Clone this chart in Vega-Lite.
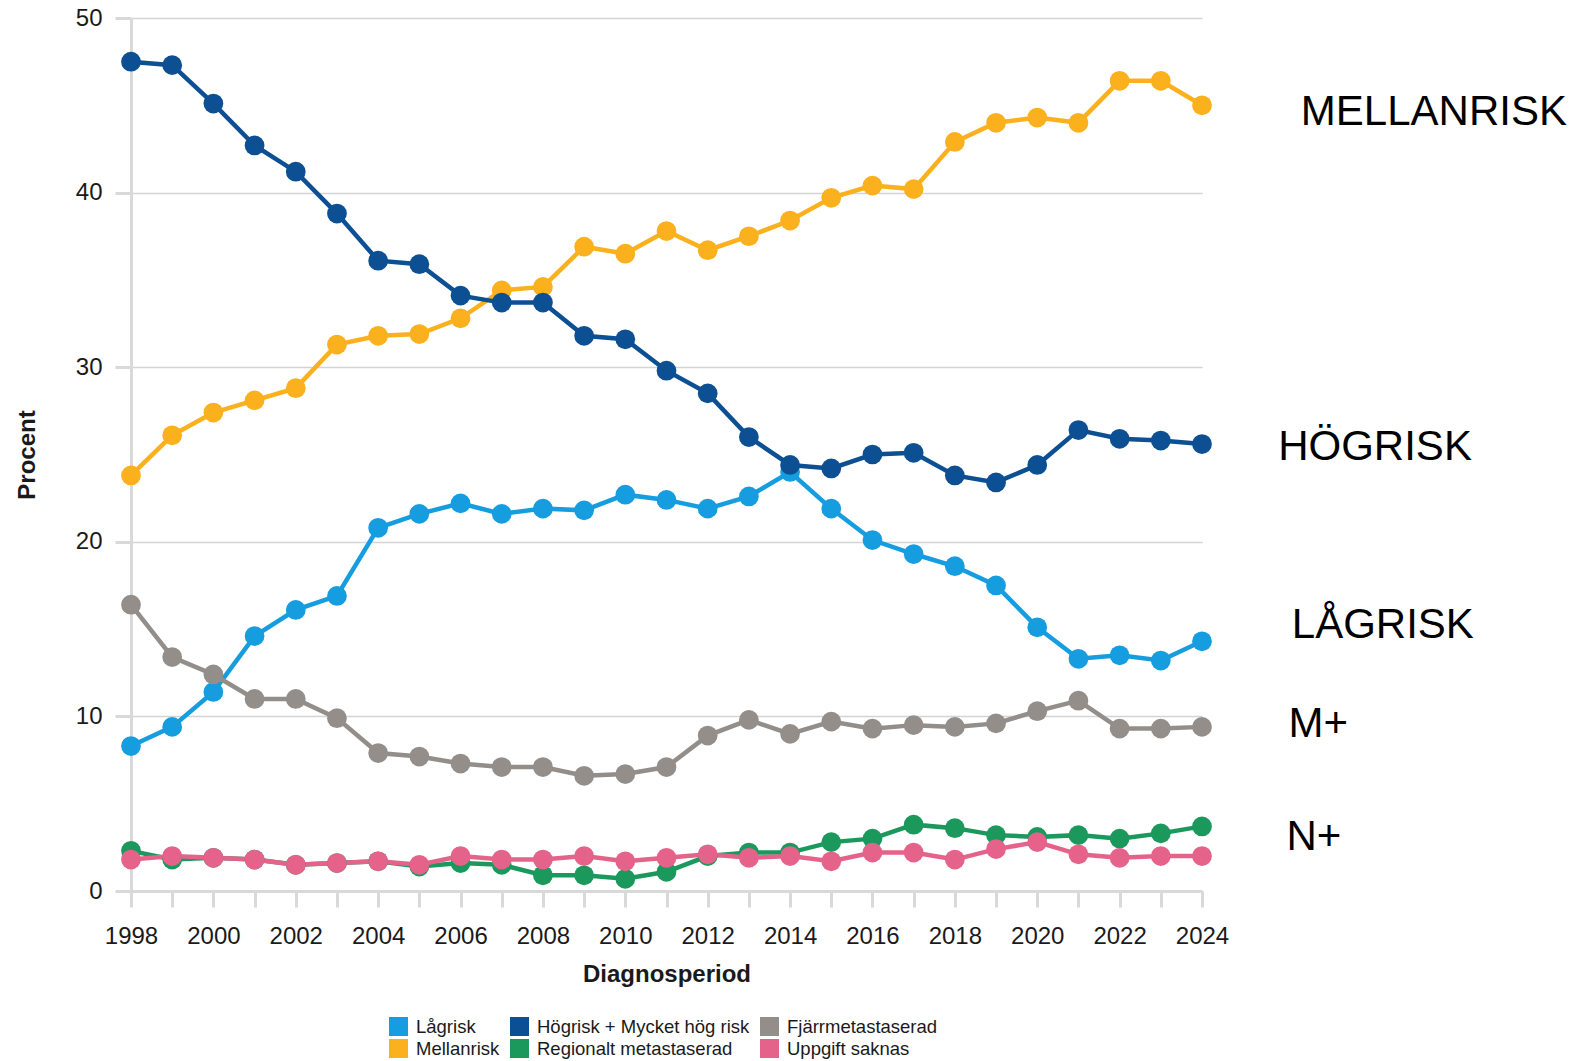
{
  "$schema": "https://vega.github.io/schema/vega-lite/v6.json",
  "width": 1071,
  "height": 873,
  "autosize": {"type": "none"},
  "padding": {"left": 131, "top": 18, "right": 373, "bottom": 170},
  "background": "white",
  "config": {
    "view": {"stroke": null},
    "font": "Liberation Sans",
    "axis": {
      "domainColor": "#d9d9d9",
      "domainWidth": 3,
      "tickColor": "#d9d9d9",
      "tickWidth": 3,
      "tickSize": 16,
      "gridColor": "#d4d4d4",
      "gridWidth": 1.5,
      "labelFont": "Liberation Sans",
      "labelFontSize": 24,
      "labelColor": "#1a1a1a",
      "titleFont": "Liberation Sans",
      "titleFontSize": 24,
      "titleFontWeight": "bold",
      "titleColor": "#1a1a1a"
    },
    "legend": {
      "title": null,
      "orient": "none",
      "legendX": 258,
      "legendY": 999,
      "columns": 3,
      "symbolType": "square",
      "symbolSize": 361,
      "symbolStrokeWidth": 0,
      "symbolOpacity": 1,
      "labelFont": "Liberation Sans",
      "labelFontSize": 18.5,
      "labelColor": "#1a1a1a",
      "labelOffset": 8,
      "columnPadding": 10,
      "rowPadding": 3,
      "labelLimit": 400
    }
  },
  "datasets": {
    "series": [
      {"year":1998,"series":"Lågrisk","value":8.3},
      {"year":1999,"series":"Lågrisk","value":9.4},
      {"year":2000,"series":"Lågrisk","value":11.4},
      {"year":2001,"series":"Lågrisk","value":14.6},
      {"year":2002,"series":"Lågrisk","value":16.1},
      {"year":2003,"series":"Lågrisk","value":16.9},
      {"year":2004,"series":"Lågrisk","value":20.8},
      {"year":2005,"series":"Lågrisk","value":21.6},
      {"year":2006,"series":"Lågrisk","value":22.2},
      {"year":2007,"series":"Lågrisk","value":21.6},
      {"year":2008,"series":"Lågrisk","value":21.9},
      {"year":2009,"series":"Lågrisk","value":21.8},
      {"year":2010,"series":"Lågrisk","value":22.7},
      {"year":2011,"series":"Lågrisk","value":22.4},
      {"year":2012,"series":"Lågrisk","value":21.9},
      {"year":2013,"series":"Lågrisk","value":22.6},
      {"year":2014,"series":"Lågrisk","value":24.0},
      {"year":2015,"series":"Lågrisk","value":21.9},
      {"year":2016,"series":"Lågrisk","value":20.1},
      {"year":2017,"series":"Lågrisk","value":19.3},
      {"year":2018,"series":"Lågrisk","value":18.6},
      {"year":2019,"series":"Lågrisk","value":17.5},
      {"year":2020,"series":"Lågrisk","value":15.1},
      {"year":2021,"series":"Lågrisk","value":13.3},
      {"year":2022,"series":"Lågrisk","value":13.5},
      {"year":2023,"series":"Lågrisk","value":13.2},
      {"year":2024,"series":"Lågrisk","value":14.3},
      {"year":1998,"series":"Mellanrisk","value":23.8},
      {"year":1999,"series":"Mellanrisk","value":26.1},
      {"year":2000,"series":"Mellanrisk","value":27.4},
      {"year":2001,"series":"Mellanrisk","value":28.1},
      {"year":2002,"series":"Mellanrisk","value":28.8},
      {"year":2003,"series":"Mellanrisk","value":31.3},
      {"year":2004,"series":"Mellanrisk","value":31.8},
      {"year":2005,"series":"Mellanrisk","value":31.9},
      {"year":2006,"series":"Mellanrisk","value":32.8},
      {"year":2007,"series":"Mellanrisk","value":34.4},
      {"year":2008,"series":"Mellanrisk","value":34.6},
      {"year":2009,"series":"Mellanrisk","value":36.9},
      {"year":2010,"series":"Mellanrisk","value":36.5},
      {"year":2011,"series":"Mellanrisk","value":37.8},
      {"year":2012,"series":"Mellanrisk","value":36.7},
      {"year":2013,"series":"Mellanrisk","value":37.5},
      {"year":2014,"series":"Mellanrisk","value":38.4},
      {"year":2015,"series":"Mellanrisk","value":39.7},
      {"year":2016,"series":"Mellanrisk","value":40.4},
      {"year":2017,"series":"Mellanrisk","value":40.2},
      {"year":2018,"series":"Mellanrisk","value":42.9},
      {"year":2019,"series":"Mellanrisk","value":44.0},
      {"year":2020,"series":"Mellanrisk","value":44.3},
      {"year":2021,"series":"Mellanrisk","value":44.0},
      {"year":2022,"series":"Mellanrisk","value":46.4},
      {"year":2023,"series":"Mellanrisk","value":46.4},
      {"year":2024,"series":"Mellanrisk","value":45.0},
      {"year":1998,"series":"Högrisk + Mycket hög risk","value":47.5},
      {"year":1999,"series":"Högrisk + Mycket hög risk","value":47.3},
      {"year":2000,"series":"Högrisk + Mycket hög risk","value":45.1},
      {"year":2001,"series":"Högrisk + Mycket hög risk","value":42.7},
      {"year":2002,"series":"Högrisk + Mycket hög risk","value":41.2},
      {"year":2003,"series":"Högrisk + Mycket hög risk","value":38.8},
      {"year":2004,"series":"Högrisk + Mycket hög risk","value":36.1},
      {"year":2005,"series":"Högrisk + Mycket hög risk","value":35.9},
      {"year":2006,"series":"Högrisk + Mycket hög risk","value":34.1},
      {"year":2007,"series":"Högrisk + Mycket hög risk","value":33.7},
      {"year":2008,"series":"Högrisk + Mycket hög risk","value":33.7},
      {"year":2009,"series":"Högrisk + Mycket hög risk","value":31.8},
      {"year":2010,"series":"Högrisk + Mycket hög risk","value":31.6},
      {"year":2011,"series":"Högrisk + Mycket hög risk","value":29.8},
      {"year":2012,"series":"Högrisk + Mycket hög risk","value":28.5},
      {"year":2013,"series":"Högrisk + Mycket hög risk","value":26.0},
      {"year":2014,"series":"Högrisk + Mycket hög risk","value":24.4},
      {"year":2015,"series":"Högrisk + Mycket hög risk","value":24.2},
      {"year":2016,"series":"Högrisk + Mycket hög risk","value":25.0},
      {"year":2017,"series":"Högrisk + Mycket hög risk","value":25.1},
      {"year":2018,"series":"Högrisk + Mycket hög risk","value":23.8},
      {"year":2019,"series":"Högrisk + Mycket hög risk","value":23.4},
      {"year":2020,"series":"Högrisk + Mycket hög risk","value":24.4},
      {"year":2021,"series":"Högrisk + Mycket hög risk","value":26.4},
      {"year":2022,"series":"Högrisk + Mycket hög risk","value":25.9},
      {"year":2023,"series":"Högrisk + Mycket hög risk","value":25.8},
      {"year":2024,"series":"Högrisk + Mycket hög risk","value":25.6},
      {"year":1998,"series":"Fjärrmetastaserad","value":16.4},
      {"year":1999,"series":"Fjärrmetastaserad","value":13.4},
      {"year":2000,"series":"Fjärrmetastaserad","value":12.4},
      {"year":2001,"series":"Fjärrmetastaserad","value":11.0},
      {"year":2002,"series":"Fjärrmetastaserad","value":11.0},
      {"year":2003,"series":"Fjärrmetastaserad","value":9.9},
      {"year":2004,"series":"Fjärrmetastaserad","value":7.9},
      {"year":2005,"series":"Fjärrmetastaserad","value":7.7},
      {"year":2006,"series":"Fjärrmetastaserad","value":7.3},
      {"year":2007,"series":"Fjärrmetastaserad","value":7.1},
      {"year":2008,"series":"Fjärrmetastaserad","value":7.1},
      {"year":2009,"series":"Fjärrmetastaserad","value":6.6},
      {"year":2010,"series":"Fjärrmetastaserad","value":6.7},
      {"year":2011,"series":"Fjärrmetastaserad","value":7.1},
      {"year":2012,"series":"Fjärrmetastaserad","value":8.9},
      {"year":2013,"series":"Fjärrmetastaserad","value":9.8},
      {"year":2014,"series":"Fjärrmetastaserad","value":9.0},
      {"year":2015,"series":"Fjärrmetastaserad","value":9.7},
      {"year":2016,"series":"Fjärrmetastaserad","value":9.3},
      {"year":2017,"series":"Fjärrmetastaserad","value":9.5},
      {"year":2018,"series":"Fjärrmetastaserad","value":9.4},
      {"year":2019,"series":"Fjärrmetastaserad","value":9.6},
      {"year":2020,"series":"Fjärrmetastaserad","value":10.3},
      {"year":2021,"series":"Fjärrmetastaserad","value":10.9},
      {"year":2022,"series":"Fjärrmetastaserad","value":9.3},
      {"year":2023,"series":"Fjärrmetastaserad","value":9.3},
      {"year":2024,"series":"Fjärrmetastaserad","value":9.4},
      {"year":1998,"series":"Regionalt metastaserad","value":2.3},
      {"year":1999,"series":"Regionalt metastaserad","value":1.8},
      {"year":2000,"series":"Regionalt metastaserad","value":1.9},
      {"year":2001,"series":"Regionalt metastaserad","value":1.8},
      {"year":2002,"series":"Regionalt metastaserad","value":1.5},
      {"year":2003,"series":"Regionalt metastaserad","value":1.6},
      {"year":2004,"series":"Regionalt metastaserad","value":1.7},
      {"year":2005,"series":"Regionalt metastaserad","value":1.4},
      {"year":2006,"series":"Regionalt metastaserad","value":1.6},
      {"year":2007,"series":"Regionalt metastaserad","value":1.5},
      {"year":2008,"series":"Regionalt metastaserad","value":0.9},
      {"year":2009,"series":"Regionalt metastaserad","value":0.9},
      {"year":2010,"series":"Regionalt metastaserad","value":0.7},
      {"year":2011,"series":"Regionalt metastaserad","value":1.1},
      {"year":2012,"series":"Regionalt metastaserad","value":2.0},
      {"year":2013,"series":"Regionalt metastaserad","value":2.2},
      {"year":2014,"series":"Regionalt metastaserad","value":2.2},
      {"year":2015,"series":"Regionalt metastaserad","value":2.8},
      {"year":2016,"series":"Regionalt metastaserad","value":3.0},
      {"year":2017,"series":"Regionalt metastaserad","value":3.8},
      {"year":2018,"series":"Regionalt metastaserad","value":3.6},
      {"year":2019,"series":"Regionalt metastaserad","value":3.2},
      {"year":2020,"series":"Regionalt metastaserad","value":3.1},
      {"year":2021,"series":"Regionalt metastaserad","value":3.2},
      {"year":2022,"series":"Regionalt metastaserad","value":3.0},
      {"year":2023,"series":"Regionalt metastaserad","value":3.3},
      {"year":2024,"series":"Regionalt metastaserad","value":3.7},
      {"year":1998,"series":"Uppgift saknas","value":1.8},
      {"year":1999,"series":"Uppgift saknas","value":2.0},
      {"year":2000,"series":"Uppgift saknas","value":1.9},
      {"year":2001,"series":"Uppgift saknas","value":1.8},
      {"year":2002,"series":"Uppgift saknas","value":1.5},
      {"year":2003,"series":"Uppgift saknas","value":1.6},
      {"year":2004,"series":"Uppgift saknas","value":1.7},
      {"year":2005,"series":"Uppgift saknas","value":1.5},
      {"year":2006,"series":"Uppgift saknas","value":2.0},
      {"year":2007,"series":"Uppgift saknas","value":1.8},
      {"year":2008,"series":"Uppgift saknas","value":1.8},
      {"year":2009,"series":"Uppgift saknas","value":2.0},
      {"year":2010,"series":"Uppgift saknas","value":1.7},
      {"year":2011,"series":"Uppgift saknas","value":1.9},
      {"year":2012,"series":"Uppgift saknas","value":2.1},
      {"year":2013,"series":"Uppgift saknas","value":1.9},
      {"year":2014,"series":"Uppgift saknas","value":2.0},
      {"year":2015,"series":"Uppgift saknas","value":1.7},
      {"year":2016,"series":"Uppgift saknas","value":2.2},
      {"year":2017,"series":"Uppgift saknas","value":2.2},
      {"year":2018,"series":"Uppgift saknas","value":1.8},
      {"year":2019,"series":"Uppgift saknas","value":2.4},
      {"year":2020,"series":"Uppgift saknas","value":2.8},
      {"year":2021,"series":"Uppgift saknas","value":2.1},
      {"year":2022,"series":"Uppgift saknas","value":1.9},
      {"year":2023,"series":"Uppgift saknas","value":2.0},
      {"year":2024,"series":"Uppgift saknas","value":2.0}
    ],
    "labels": [
      {"label":"MELLANRISK","year":2026.4,"value":43.9},
      {"label":"HÖGRISK","year":2025.85,"value":24.68},
      {"label":"LÅGRISK","year":2026.18,"value":14.5},
      {"label":"M+","year":2026.1,"value":8.8},
      {"label":"N+","year":2026.05,"value":2.35}
    ]
  },
  "layer": [
    {
      "data": {"name": "series"},
      "mark": {"type": "line", "strokeWidth": 4.5},
      "encoding": {
        "x": {
          "field": "year", "type": "quantitative",
          "scale": {"domain": [1998, 2024], "nice": false, "zero": false},
          "axis": {
            "title": "Diagnosperiod",
            "values": [1998,1999,2000,2001,2002,2003,2004,2005,2006,2007,2008,2009,2010,2011,2012,2013,2014,2015,2016,2017,2018,2019,2020,2021,2022,2023,2024],
            "format": "d",
            "labelExpr": "datum.value % 2 == 0 ? datum.label : ''",
            "labelOverlap": false,
            "labelFlush": false,
            "labelPadding": 17,
            "titlePadding": 14,
            "grid": false
          }
        },
        "y": {
          "field": "value", "type": "quantitative",
          "scale": {"domain": [0, 50], "nice": false},
          "axis": {
            "title": "Procent",
            "values": [0,10,20,30,40,50],
            "labelPadding": 13,
            "titlePadding": 36,
            "grid": true
          }
        },
        "color": {
          "field": "series", "type": "nominal",
          "scale": {
            "domain": ["Lågrisk", "Mellanrisk", "Högrisk + Mycket hög risk", "Regionalt metastaserad", "Fjärrmetastaserad", "Uppgift saknas"],
            "range": ["#169ddf", "#fbb01d", "#0c4f93", "#1b995d", "#938e89", "#e5638a"]
          },
          "legend": {
            "symbolType": "square",
            "encode": {"symbols": {"update": {"fill": {"scale": "color", "field": "value"}, "strokeWidth": {"value": 0}, "opacity": {"value": 1}}}}
          }
        }
      }
    },
    {
      "data": {"name": "series"},
      "mark": {"type": "circle", "size": 390, "opacity": 1},
      "encoding": {
        "x": {"field": "year", "type": "quantitative"},
        "y": {"field": "value", "type": "quantitative"},
        "color": {
          "field": "series", "type": "nominal",
          "legend": {
            "symbolType": "square",
            "encode": {"symbols": {"update": {"fill": {"scale": "color", "field": "value"}, "strokeWidth": {"value": 0}, "opacity": {"value": 1}}}}
          }
        }
      }
    },
    {
      "data": {"name": "labels"},
      "mark": {"type": "text", "font": "Liberation Sans", "fontSize": 42, "align": "left", "baseline": "alphabetic", "color": "#000000"},
      "encoding": {
        "x": {"field": "year", "type": "quantitative"},
        "y": {"field": "value", "type": "quantitative"},
        "text": {"field": "label"}
      }
    }
  ]
}
